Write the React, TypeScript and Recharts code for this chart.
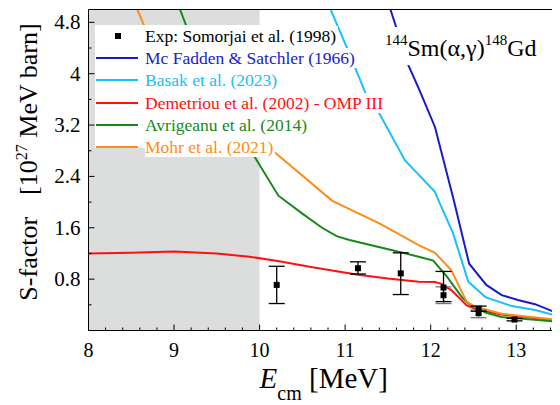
import React from "react";
import {
  ComposedChart, Line, Scatter, ErrorBar, XAxis, YAxis, ReferenceArea, Legend, Label,
} from "recharts";

const SERIF = '"Liberation Serif", "Times New Roman", serif';

// Mc Fadden & Satchler (1966)
const MCF_E = [11.48, 11.53, 11.74, 11.86, 12.05, 12.27, 12.38, 12.45, 12.65, 12.83, 13.02, 13.22, 13.5];
const MCF_S = [5.3, 5.0, 4.13, 3.77, 3.17, 2.03, 1.42, 1.04, 0.71, 0.55, 0.475, 0.41, 0.26];

// Basak et al. (2023)
const BASAK_E = [10.78, 10.83, 11.06, 11.24, 11.4, 11.7, 12.05, 12.09, 12.26, 12.44, 12.64, 12.95, 13.22, 13.5];
const BASAK_S = [5.3, 5.0, 4.28, 3.69, 3.38, 2.65, 2.16, 2.03, 1.52, 0.76, 0.52, 0.38, 0.32, 0.22];

// Demetriou et al. (2002) - OMP III
const DEM_E = [8, 8.5, 9, 9.5, 9.88, 10.23, 10.6, 11.15, 11.5, 11.86, 12.05, 12.12, 12.24, 12.34, 12.42, 12.5, 12.65, 12.83, 13.1, 13.5];
const DEM_S = [1.2, 1.21, 1.23, 1.2, 1.15, 1.08, 0.99, 0.87, 0.81, 0.76, 0.755, 0.73, 0.63, 0.5, 0.39, 0.35, 0.3, 0.25, 0.21, 0.15];

// Avrigeanu et al. (2014)
const AVR_E = [9.0, 9.07, 9.15, 9.3, 9.5, 9.7, 9.88, 10.22, 10.5, 10.73, 10.9, 11.05, 11.65, 11.86, 12.03, 12.19, 12.37, 12.44, 12.64, 12.83, 13.5];
const AVR_S = [5.3, 5.0, 4.72, 4.25, 3.68, 3.2, 2.84, 2.1, 1.82, 1.6, 1.47, 1.41, 1.22, 1.15, 1.09, 0.84, 0.51, 0.42, 0.28, 0.21, 0.135];

// Mohr et al. (2021)
const MOHR_E = [8.5, 8.57, 8.64, 8.8, 9.0, 9.5, 10.0, 10.2, 10.85, 11.4, 11.86, 12.05, 12.24, 12.42, 12.52, 12.83, 13.5];
const MOHR_S = [5.3, 5.0, 4.78, 4.4, 4.1, 3.5, 2.97, 2.75, 2.02, 1.67, 1.33, 1.21, 0.94, 0.45, 0.37, 0.26, 0.165];

// Exp: Somorjai et al. (1998), errors as [down, up]
const EXP_E = [10.2, 11.15, 11.65, 12.15, 12.56, 12.98];
const EXP_S = [0.71, 0.97, 0.89, 0.67, 0.34, 0.17];
const EXP_ERR = [[0.29, 0.29], [0.09, 0.1], [0.33, 0.32], [0.22, 0.25], [0.04, 0.04], [0.02, 0.02]];
const EXP2_E = [12.15, 12.56];
const EXP2_S = [0.55, 0.27];
const EXP2_ERR = [[0.13, 0.13], [0.07, 0.05]];

const X_MAJOR = [8, 9, 10, 11, 12, 13];
const X_MINOR = [8.2, 8.4, 8.6, 8.8, 9.2, 9.4, 9.6, 9.8, 10.2, 10.4, 10.6, 10.8, 11.2, 11.4, 11.6, 11.8, 12.2, 12.4, 12.6, 12.8, 13.2, 13.4];
const Y_MAJOR = [0.8, 1.6, 2.4, 3.2, 4, 4.8];
const Y_MINOR_LEFT = [0.4, 1.2, 2, 2.8, 3.6, 4.4];
const Y_MINOR_RIGHT = [0.2, 0.4, 0.6, 1, 1.2, 1.4, 1.8, 2, 2.2, 2.6, 2.8, 3, 3.4, 3.6, 3.8, 4.2, 4.4, 4.6];

const pairs = (e: number[], s: number[]) => e.map((x, i) => ({ e: x, s: s[i] }));
const withErr = (e: number[], s: number[], err: number[][]) =>
  e.map((x, i) => ({ e: x, s: s[i], err: err[i] }));

const SERIES = [
  { name: "Mc Fadden & Satchler (1966)", color: "#1a1acd", data: pairs(MCF_E, MCF_S) },
  { name: "Basak et al. (2023)", color: "#19c0fa", data: pairs(BASAK_E, BASAK_S) },
  { name: "Demetriou et al. (2002) - OMP III", color: "#ff1010", data: pairs(DEM_E, DEM_S) },
  { name: "Avrigeanu et al. (2014)", color: "#17891b", data: pairs(AVR_E, AVR_S) },
  { name: "Mohr et al. (2021)", color: "#ff8c1a", data: pairs(MOHR_E, MOHR_S) },
];
const EXP_NAME = "Exp: Somorjai et al. (1998)";

const sortNum = (a: number, b: number) => a - b;
const X_TICKS = [...X_MAJOR, ...X_MINOR].sort(sortNum);
const Y_TICKS_LEFT = [...Y_MAJOR, ...Y_MINOR_LEFT].sort(sortNum);
const Y_TICKS_RIGHT = [...Y_MAJOR, ...Y_MINOR_RIGHT].sort(sortNum);

// ticks point into the plot; labels only on bottom/left majors
function makeTick(side: "bottom" | "top" | "left" | "right") {
  return (props: any) => {
    const { x, y, payload } = props;
    const v = payload.value;
    const horiz = side === "bottom" || side === "top";
    const major = horiz ? X_MAJOR.includes(v) : Y_MAJOR.includes(v);
    const len = major ? 6 : 3;
    let line;
    if (side === "bottom") line = <line x1={x} x2={x} y1={y} y2={y - len} stroke="#000" />;
    else if (side === "top") line = <line x1={x} x2={x} y1={y} y2={y + len} stroke="#000" />;
    else if (side === "left") line = <line x1={x} x2={x + len} y1={y} y2={y} stroke="#000" />;
    else line = <line x1={x} x2={x - len} y1={y} y2={y} stroke="#000" />;
    return (
      <g>
        {line}
        {major && side === "bottom" && (
          <text x={x} y={y + 26} textAnchor="middle" fontSize={20} fontFamily={SERIF} fill="#000">{v}</text>
        )}
        {major && side === "left" && (
          <text x={x - 8} y={y + 7} textAnchor="end" fontSize={21} fontFamily={SERIF} fill="#000">{v}</text>
        )}
      </g>
    );
  };
}

const Square = (p: any) => <rect x={p.cx - 3} y={p.cy - 3} width={6} height={6} fill="#000" />;

function LegendBox() {
  const rows = [{ name: EXP_NAME, color: "#000", exp: true }, ...SERIES.map((s) => ({ ...s, exp: false }))];
  return (
    <div style={{ position: "relative", width: 165, height: 123, background: "#fff", fontFamily: SERIF, fontSize: 17.5 }}>
      {rows.map((r, i) => (
        <div key={r.name} style={{ position: "absolute", left: 0, top: i * 22.2, height: 22, display: "flex", alignItems: "center", whiteSpace: "nowrap" }}>
          <svg width={50} height={22} style={{ display: "block" }}>
            {r.exp
              ? <rect x={20} y={8} width={6} height={6} fill="#000" />
              : <line x1={1} x2={43} y1={11} y2={11} stroke={r.color} strokeWidth={2} />}
          </svg>
          <span style={{ background: "#fff", color: r.color, paddingRight: 2, lineHeight: "20px" }}>{r.name}</span>
        </div>
      ))}
    </div>
  );
}

const renderYLabel = (props: any) => {
  const vb = props.viewBox;
  const cx = vb.x + 8.5;
  const cy = vb.y + vb.height / 2 - 8;
  return (
    <text transform={`translate(${cx},${cy}) rotate(-90)`} textAnchor="middle" fontSize={26} fontFamily={SERIF} fill="#000">
      <tspan>S-factor</tspan>
      <tspan dx={22}>[10</tspan>
      <tspan dy={-10} fontSize={16}>27</tspan>
      <tspan dy={10}>{"\u00a0MeV barn]"}</tspan>
    </text>
  );
};

const renderXLabel = (props: any) => {
  const vb = props.viewBox;
  return (
    <text x={vb.x + vb.width / 2} y={vb.y + 57.5} textAnchor="middle" fontSize={29} fontFamily={SERIF} fill="#000">
      <tspan fontStyle="italic">E</tspan>
      <tspan dy={12} fontSize={20}>cm</tspan>
      <tspan dy={-12}>{"\u00a0[MeV]"}</tspan>
    </text>
  );
};

export default function App() {
  return (
    <div style={{ position: "relative", width: 552, height: 397 }}>
      <ComposedChart width={552} height={397} margin={{ top: 0.5, right: 0, bottom: 14.5, left: 20.5 }}>
        <ReferenceArea x1={8} x2={10} y1={0} y2={5} fill="#dcdddd" fillOpacity={1} stroke="none" ifOverflow="hidden" />
        <XAxis
          dataKey="e" type="number" domain={[8, 13.5]} allowDataOverflow ticks={X_TICKS} interval={0}
          height={60} tickSize={0} tickMargin={0} tickLine={false} tick={makeTick("bottom")}
          axisLine={{ stroke: "#000" }}
        >
          <Label content={renderXLabel} />
        </XAxis>
        <XAxis
          xAxisId="top" orientation="top" type="number" domain={[8, 13.5]} ticks={X_TICKS} interval={0}
          height={1} tickSize={0} tickMargin={0} tickLine={false} tick={makeTick("top")}
          axisLine={{ stroke: "#000" }}
        />
        <YAxis
          type="number" domain={[0, 5]} allowDataOverflow ticks={Y_TICKS_LEFT} interval={0}
          width={60} tickSize={0} tickMargin={0} tickLine={false} tick={makeTick("left")}
          axisLine={{ stroke: "#000" }}
        >
          <Label content={renderYLabel} />
        </YAxis>
        <YAxis
          yAxisId="right" orientation="right" type="number" domain={[0, 5]} ticks={Y_TICKS_RIGHT} interval={0}
          width={1} tickSize={0} tickMargin={0} tickLine={false} tick={makeTick("right")}
          axisLine={{ stroke: "#000" }}
        />
        {SERIES.map((s) => (
          <Line
            key={s.name} data={s.data} dataKey="s" name={s.name} type="linear"
            stroke={s.color} strokeWidth={2} dot={false} isAnimationActive={false}
          />
        ))}
        <Scatter data={withErr(EXP2_E, EXP2_S, EXP2_ERR)} dataKey="s" shape={Square} isAnimationActive={false}>
          <ErrorBar dataKey="err" direction="y" width={8} stroke="#777" strokeWidth={1.3} />
        </Scatter>
        <Scatter data={withErr(EXP_E, EXP_S, EXP_ERR)} dataKey="s" name={EXP_NAME} shape={Square} isAnimationActive={false}>
          <ErrorBar dataKey="err" direction="y" width={8} stroke="#000" strokeWidth={1.3} />
        </Scatter>
        <Legend
          layout="vertical" verticalAlign="middle" align="center"
          wrapperStyle={{ left: 87, top: 17, width: 165, height: 123 }}
          content={() => <LegendBox />}
        />
      </ComposedChart>
      <div style={{ position: "absolute", left: 375, top: 19, height: 38, lineHeight: "42px", paddingLeft: 2, paddingRight: 4, background: "#fff", fontFamily: SERIF, fontSize: 24, whiteSpace: "nowrap" }}>
        <span style={{ position: "relative", top: -11, fontSize: 15 }}>144</span>Sm(α,γ)
        <span style={{ position: "relative", top: -11, fontSize: 15 }}>148</span>Gd
      </div>
    </div>
  );
}
